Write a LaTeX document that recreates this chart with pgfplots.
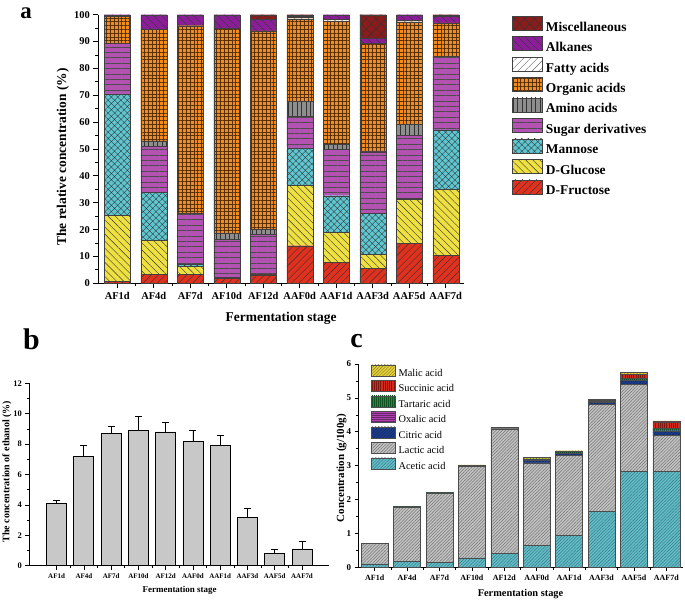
\documentclass[border=0pt]{standalone}
\usepackage{pgfplots}
\pgfplotsset{compat=1.18}
\usepackage{pgfplotstable}
\usetikzlibrary{patterns.meta}
\usepackage{fontspec}
\setmainfont{Liberation Serif}

\definecolor{cMis}{HTML}{8B1C1C}
\definecolor{cAlk}{HTML}{8A1E96}
\definecolor{cFat}{HTML}{FFFFFF}
\definecolor{cOrg}{HTML}{F28C1E}
\definecolor{cAmi}{HTML}{8E8E8E}
\definecolor{cSug}{HTML}{B452B4}
\definecolor{cMan}{HTML}{5EC6D0}
\definecolor{cGlu}{HTML}{EEE040}
\definecolor{cFru}{HTML}{E0301E}
\definecolor{barg}{HTML}{C8C8C8}
\definecolor{kAce}{HTML}{62C0CC}
\definecolor{kLac}{HTML}{C4C4C4}
\definecolor{kCit}{HTML}{1C3C8C}
\definecolor{kOxa}{HTML}{B040B0}
\definecolor{kTar}{HTML}{1E8B3A}
\definecolor{kSuc}{HTML}{D42A1E}
\definecolor{kMal}{HTML}{E6D23C}

\pgfplotstableread{
x Fru Glu Man Sug Ami Org Fat Alk Mis
0 0.8 24.5 45.2 18.8 0 10.2 0 0.5 0
1 3.4 12.7 17.8 17.2 1.9 41.6 0 5.4 0
2 3.3 2.9 0.9 18.9 0 69.9 0 4.1 0
3 1.8 0.4 0 14.2 2.2 76.3 0 5.1 0
4 3.1 0.3 0 14.8 1.9 73.9 0 4.3 1.7
5 14.0 22.5 13.9 11.9 5.5 30.6 0.5 0.5 0.6
6 7.8 11.2 13.6 17.3 1.8 46.0 0.6 1.7 0
7 5.6 5.2 15.3 22.8 0.4 40.1 0 1.9 8.7
8 15.0 16.3 0.3 23.4 4.2 38.1 0.5 2.2 0
9 10.5 24.5 22.1 27.3 0 12.6 0 2.3 0.7
}\tabA

\pgfplotstableread{
x y e
0 4.1 0.2
1 7.2 0.7
2 8.7 0.5
3 8.9 0.9
4 8.8 0.6
5 8.2 0.7
6 7.9 0.7
7 3.2 0.6
8 0.8 0.3
9 1.1 0.5
}\tabB

\pgfplotstableread{
x Ace Lac Cit Oxa Tar Suc Mal
0 0.10 0.60 0 0 0 0 0
1 0.18 1.58 0 0 0.02 0 0.02
2 0.15 2.03 0 0 0.02 0 0.01
3 0.28 2.70 0 0 0.02 0 0.02
4 0.42 3.67 0 0 0.01 0 0.03
5 0.65 2.43 0.09 0 0.03 0 0.04
6 0.95 2.35 0.08 0 0.05 0 0.01
7 1.65 3.15 0.06 0 0.04 0.02 0.03
8 2.83 2.57 0.12 0 0.06 0.12 0.05
9 2.83 1.07 0.13 0 0.08 0.18 0.03
}\tabC

\pgfplotsset{
  common/.style={
    scale only axis, anchor=south west,
    axis lines*=left, tick align=outside,
    /pgf/number format/assume math mode=true,
    xtick={0,...,9},
    xticklabels={AF1d,AF4d,AF7d,AF10d,AF12d,AAF0d,AAF1d,AAF3d,AAF5d,AAF7d},
    minor x tick num=1, minor y tick num=1,
    axis line style={line width=0.9bp, black},
    every tick/.style={line width=0.8bp, black},
  },
}

\begin{document}
\begin{tikzpicture}
\useasboundingbox (0,0) rectangle (685bp,603bp);

% ---------------- panel a ----------------
\begin{axis}[common,
  at={(98.3bp,319.7bp)}, width=365.7bp, height=268.6bp,
  ybar stacked, bar width=26bp,
  xmin=-0.52, xmax=9.5, ymin=0, ymax=100,
  ytick={0,10,...,100},
  major tick length=5bp, minor tick length=3bp,
  tick label style={font=\fontsize{10.5}{12}\selectfont\bfseries},
  label style={font=\fontsize{13.5}{15}\selectfont\bfseries},
  xlabel={Fermentation stage},
  ylabel={The relative concentration (\%)},
  xlabel style={at={(axis description cs:0.5,-0.129)}, anchor=center},
  ylabel style={at={(axis description cs:-0.0965,0.47)}, anchor=center},
  reverse legend, legend cell align=left,
  legend style={at={(1.1304,0.9963)}, anchor=north west, draw=none, fill=none,
    inner sep=0pt, row sep=2.3bp, column sep=3.7bp,
    font=\fontsize{13.5}{15}\selectfont\bfseries,
    nodes={inner sep=0pt, text height=10bp, text depth=3bp}},
  legend image code/.code={\draw[#1] (0bp,-2.5bp) rectangle (30bp,11.5bp);},
]
\addplot[draw=black!75, line width=0.35bp, fill=cFru, postaction={pattern={Lines[angle=45,distance=5bp,line width=0.4bp]},pattern color=black!80}] table[x=x,y=Fru]{\tabA};
\addplot[draw=black!75, line width=0.35bp, fill=cGlu, postaction={pattern={Lines[angle=-45,distance=5bp,line width=0.4bp]},pattern color=black!80}] table[x=x,y=Glu]{\tabA};
\addplot[draw=black!75, line width=0.35bp, fill=cMan, postaction={pattern={Hatch[angle=45,distance=4.5bp,line width=0.35bp]},pattern color=black!80}] table[x=x,y=Man]{\tabA};
\addplot[draw=black!75, line width=0.35bp, fill=cSug, postaction={pattern={Lines[angle=0,distance=5.4bp,line width=0.4bp]},pattern color=black!70}] table[x=x,y=Sug]{\tabA};
\addplot[draw=black!75, line width=0.35bp, fill=cAmi, postaction={pattern={Lines[angle=90,distance=4.5bp,line width=0.4bp]},pattern color=black!80}] table[x=x,y=Ami]{\tabA};
\addplot[draw=black!75, line width=0.35bp, fill=cOrg, postaction={pattern={Hatch[angle=0,distance=3.8bp,line width=0.3bp]},pattern color=cOrg!35!black}] table[x=x,y=Org]{\tabA};
\addplot[draw=black!75, line width=0.35bp, fill=cFat, postaction={pattern={Lines[angle=45,distance=5bp,line width=0.4bp]},pattern color=black!60}] table[x=x,y=Fat]{\tabA};
\addplot[draw=black!75, line width=0.35bp, fill=cAlk, postaction={pattern={Lines[angle=-45,distance=6bp,line width=0.4bp]},pattern color=black!80}] table[x=x,y=Alk]{\tabA};
\addplot[draw=black!75, line width=0.35bp, fill=cMis, postaction={pattern={Hatch[angle=45,distance=7bp,line width=0.4bp]},pattern color=black!80}] table[x=x,y=Mis]{\tabA};
\legend{D-Fructose,D-Glucose,Mannose,Sugar derivatives,Amino acids,Organic acids,Fatty acids,Alkanes,Miscellaneous}
\end{axis}

% ---------------- panel b ----------------
\begin{axis}[common,
  at={(29.3bp,37.3bp)}, width=300bp, height=182.4bp,
  ybar, bar width=20bp,
  xmin=-1, xmax=10, ymin=0, ymax=12,
  ytick={0,2,...,12},
  axis line style={line width=0.7bp, black},
  major tick length=4bp, minor tick length=2.5bp,
  every tick/.style={line width=0.6bp, black},
  xticklabel style={font=\fontsize{7}{8}\selectfont\bfseries},
  yticklabel style={font=\fontsize{8.5}{10}\selectfont\bfseries},
  xlabel={Fermentation stage},
  ylabel={The concentration of ethanol (\%)},
  xlabel style={font=\fontsize{9}{10}\selectfont\bfseries, at={(axis description cs:0.501,-0.133)}, anchor=center},
  ylabel style={font=\fontsize{10}{11}\selectfont\bfseries, at={(axis description cs:-0.0743,0.516)}, anchor=center},
]
\addplot[fill=barg, draw=black, line width=0.7bp,
  error bars/.cd, y dir=plus, y explicit,
  error bar style={line width=0.7bp, black},
  error mark options={rotate=90, mark size=3.5bp, line width=0.7bp, black}]
  table[x=x,y=y,y error=e]{\tabB};
\end{axis}

% ---------------- panel c ----------------
\begin{axis}[common,
  at={(358.5bp,35.7bp)}, width=324bp, height=203.3bp,
  ybar stacked, bar width=27bp,
  xmin=-0.5, xmax=9.5, ymin=0, ymax=6,
  ytick={0,1,...,6},
  axis line style={line width=0.7bp, black},
  major tick length=4bp, minor tick length=2.5bp,
  every tick/.style={line width=0.6bp, black},
  xticklabel style={font=\fontsize{8}{9}\selectfont\bfseries},
  yticklabel style={font=\fontsize{9}{10}\selectfont\bfseries},
  xlabel={Fermentation stage},
  ylabel={Concentration (g/100g)},
  xlabel style={font=\fontsize{10.4}{12}\selectfont\bfseries, at={(axis description cs:0.5,-0.13)}, anchor=center},
  ylabel style={font=\fontsize{11}{12}\selectfont\bfseries, at={(axis description cs:-0.0525,0.488)}, anchor=center},
  reverse legend, legend cell align=left,
  legend style={at={(0.0386,0.9975)}, anchor=north west, draw=none, fill=none,
    inner sep=0pt, row sep=1.5bp, column sep=3bp,
    font=\fontsize{10.4}{12}\selectfont,
    nodes={inner sep=0pt, text height=7.5bp, text depth=2.5bp}},
  legend image code/.code={\draw[#1] (0bp,-2.2bp) rectangle (24bp,8.8bp);},
]
\addplot[draw=black!70, line width=0.4bp, fill=kAce, postaction={pattern={Lines[angle=45,distance=2.2bp,line width=0.45bp]},pattern color=kAce!60!black}] table[x=x,y=Ace]{\tabC};
\addplot[draw=black!70, line width=0.4bp, fill=kLac, postaction={pattern={Lines[angle=45,distance=2.2bp,line width=0.5bp]},pattern color=black!55}] table[x=x,y=Lac]{\tabC};
\addplot[draw=black!70, line width=0.4bp, fill=kCit, postaction={pattern={Lines[angle=45,distance=2.2bp,line width=0.4bp]},pattern color=kCit!60!black}] table[x=x,y=Cit]{\tabC};
\addplot[draw=black!70, line width=0.4bp, fill=kOxa, postaction={pattern={Lines[angle=0,distance=2bp,line width=0.4bp]},pattern color=kOxa!60!black}] table[x=x,y=Oxa]{\tabC};
\addplot[draw=black!70, line width=0.4bp, fill=kTar, postaction={pattern={Lines[angle=90,distance=2bp,line width=0.4bp]},pattern color=kTar!60!black}] table[x=x,y=Tar]{\tabC};
\addplot[draw=black!70, line width=0.4bp, fill=kSuc, postaction={pattern={Lines[angle=90,distance=2.2bp,line width=0.4bp]},pattern color=kSuc!60!black}] table[x=x,y=Suc]{\tabC};
\addplot[draw=black!70, line width=0.4bp, fill=kMal, postaction={pattern={Lines[angle=45,distance=2.2bp,line width=0.4bp]},pattern color=kMal!55!black}] table[x=x,y=Mal]{\tabC};
\legend{Acetic acid,Lactic acid,Citric acid,Oxalic acid,Tartaric acid,Succinic acid,Malic acid}
\end{axis}

% panel letters
\node[inner sep=0pt, font=\fontsize{23}{25}\selectfont\bfseries] at (26bp,590bp) {a};
\node[inner sep=0pt, font=\fontsize{30}{32}\selectfont\bfseries] at (31.5bp,264bp) {b};
\node[inner sep=0pt, font=\fontsize{28}{30}\selectfont\bfseries] at (356.5bp,261.5bp) {c};
\end{tikzpicture}
\end{document}
